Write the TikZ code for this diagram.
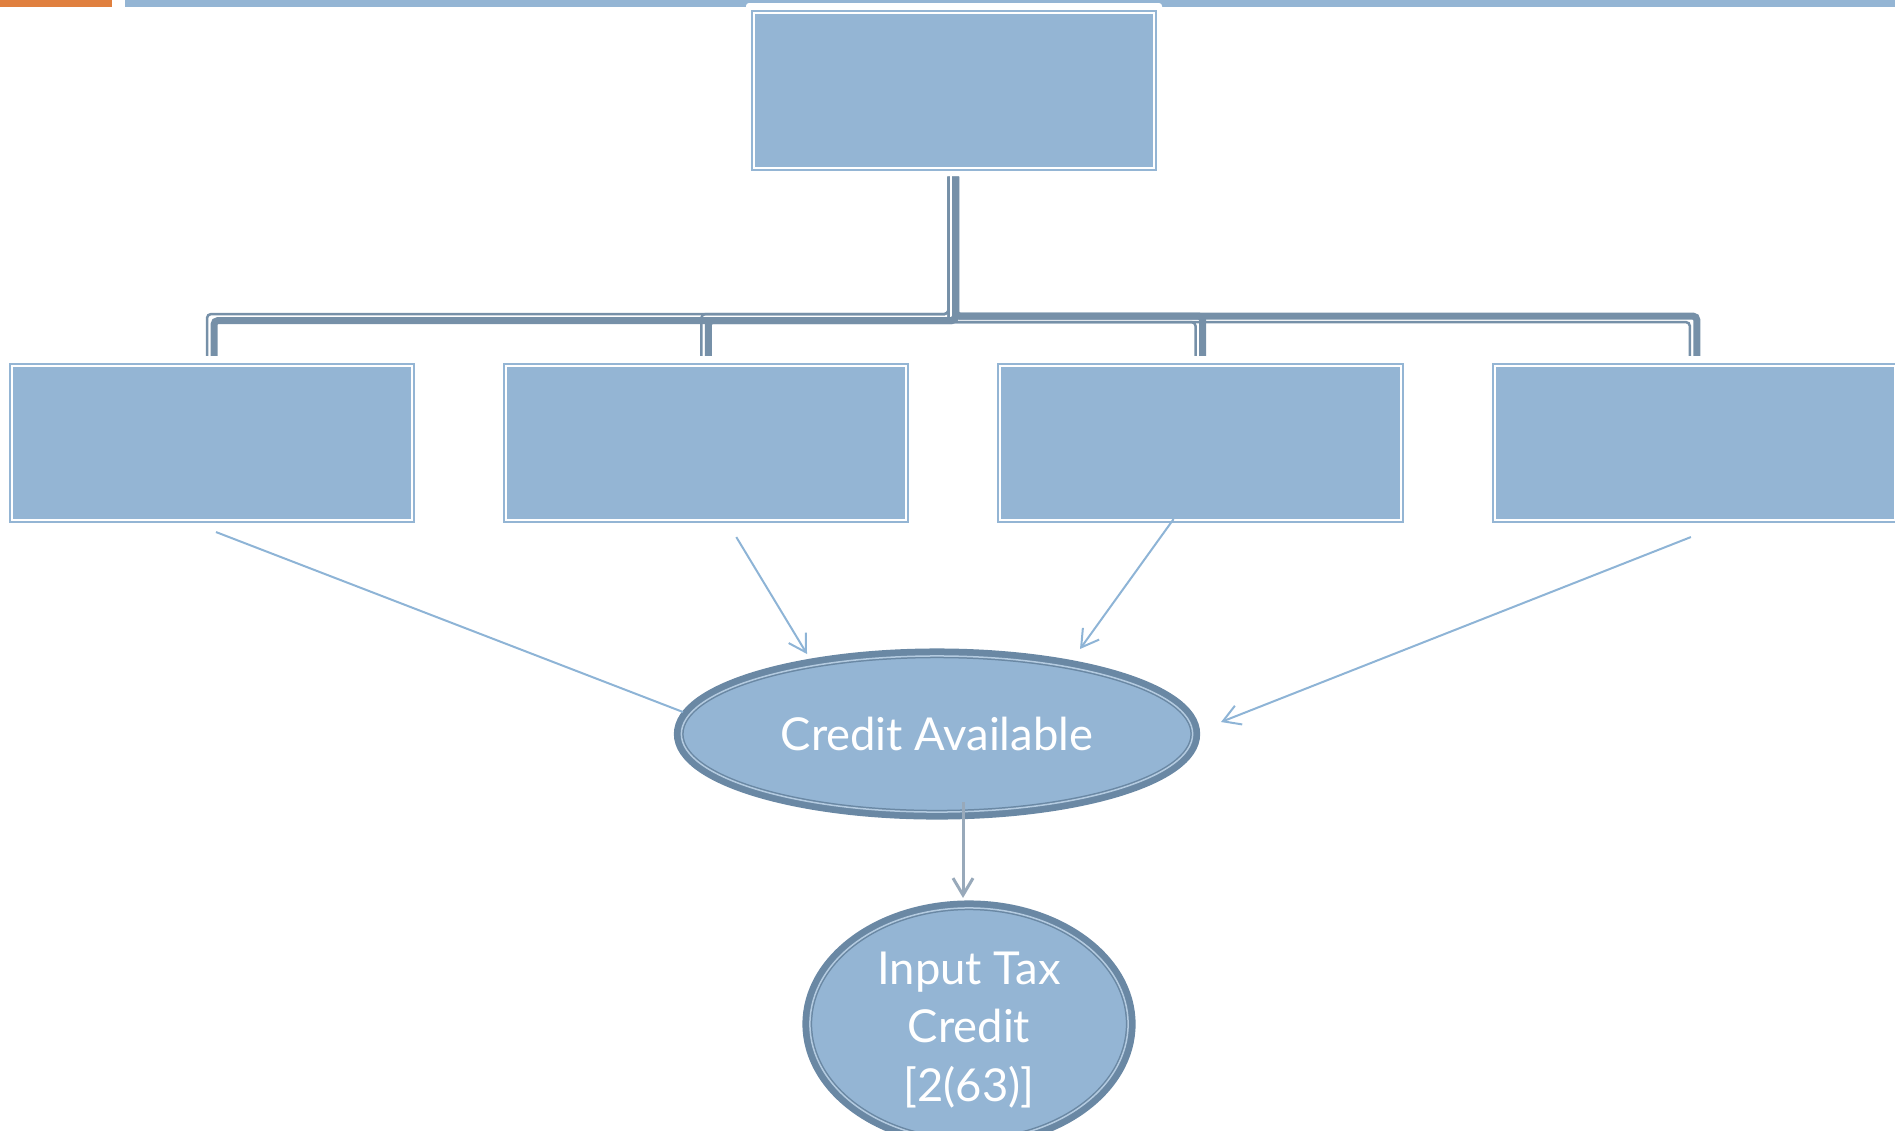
\documentclass[tikz,border=0pt]{standalone}
\usepackage{fontspec}
\setmainfont{Lato}
\usepackage{xcolor}
\usepackage{tikz}
\usetikzlibrary{calc}
\usetikzlibrary{positioning,shapes.geometric,arrows.meta}

\definecolor{boxblue}{HTML}{94B5D4}
\definecolor{barorange}{HTML}{E0803F}
\definecolor{treedark}{HTML}{7690A8}
\definecolor{ringdark}{HTML}{6A88A4}
\definecolor{ringlight}{HTML}{B4CBE0}
\definecolor{arrowblue}{HTML}{8EB4D6}
\definecolor{arrowgrey}{HTML}{98A9BA}

\tikzset{
    plainbox/.style={rectangle, minimum width=4cm, minimum height=1.54cm, inner sep=0pt, outer sep=0pt,
        fill=boxblue, draw=white, line width=0.02cm, preaction={draw=boxblue, line width=0.06cm}},
    ringtext/.style={text=white, align=center, font=\fontsize{12.9pt}{16.6pt}\selectfont},
    ringnode/.style={ellipse, inner sep=0pt, outer sep=0pt, fill=boxblue, ringtext, draw=ringdark, line width=0.045cm,
        preaction={draw=ringdark, line width=0.15cm}, postaction={draw=ringlight, line width=0.015cm}},
    trunk/.style={draw=treedark, line width=0.07cm, rounded corners=0.04cm},
    trunkedge/.style={draw=treedark, line width=0.025cm, rounded corners=0.04cm},
    feed/.style={draw=arrowblue, line width=0.02cm, -{Straight Barb[length=4.8pt,width=5.7pt]}},
}

\begin{document}
\begin{tikzpicture}[x=0.01cm, y=-0.01cm]
    \useasboundingbox (0,0) rectangle (1895,1130);
    \clip (0,0) rectangle (1895,1130);

    %PITA
    \fill[barorange] (0,0) rectangle (112,7);
    \fill[boxblue] (125,0) rectangle (1895,7);
    \fill[white, rounded corners=0.03cm] (746,3) rectangle (1162,14);

    %KOTAK
    \node[plainbox] (top) at (954,90.5) {};
    \node[plainbox] (b1) at (212,443) {};
    \node[plainbox, right=0.94cm of b1] (b2) {};
    \node[plainbox, right=0.94cm of b2] (b3) {};
    \node[plainbox, right=0.94cm of b3] (b4) {};

    %POHON
    \foreach \b/\ty/\sy in {b1/144/137.5, b2/144/137.5, b3/139.5/145.5, b4/139.5/145.5}
        \draw[trunkedge] ($(top.south)+(-5.5,9)$) -- ++(0,\sy) -| ($(\b.north)+(-5,-10)$);
    \foreach \b/\ty/\sy in {b1/144/137.5, b2/144/137.5, b3/139.5/145.5, b4/139.5/145.5}
        \draw[trunk] ($(top.south)+(1.5,9)$) -- ++(0,\ty) -| ($(\b.north)+(2,-10)$);

    %ELIPS
    \node[ringnode, minimum width=5.11cm, minimum height=1.56cm] (ca) at (937,734) {Credit Available};
    \node[ringnode, minimum width=3.18cm, minimum height=2.32cm] (ic) at (969,1024) {};
    \node[ringtext] (ictext) at ($(ic.center)+(0,6)$) {Input Tax\\Credit\\{[2(63)]}};

    %PANAH
    \coordinate (s1) at ($(b1.south)+(4,12)$);
    \coordinate (s2) at ($(b2.south)+(30,17)$);
    \coordinate (s3) at ($(b3.south)+(-27,-1)$);
    \coordinate (s4) at ($(b4.south)+(-4,17)$);
    \coordinate (e1) at ($(ca.center)+(-254,-22)$);
    \coordinate (e2) at ($(ca.center)+(-130,-80)$);
    \coordinate (e3) at ($(ca.center)+(143,-85)$);
    \coordinate (e4) at ($(ca.center)+(284,-12)$);
    \coordinate (s5) at ($(ca.center)+(26,68)$);
    \coordinate (e5) at ($(ic.north)+(-6,-10)$);

    \draw[feed, -] (s1) -- (e1);
    \draw[feed] (s2) -- (e2);
    \draw[feed] (s3) -- (e3);
    \draw[feed] (s4) -- (e4);
    \draw[feed, draw=arrowgrey, line width=0.03cm] (s5) -- (e5);

\end{tikzpicture}
\end{document}
